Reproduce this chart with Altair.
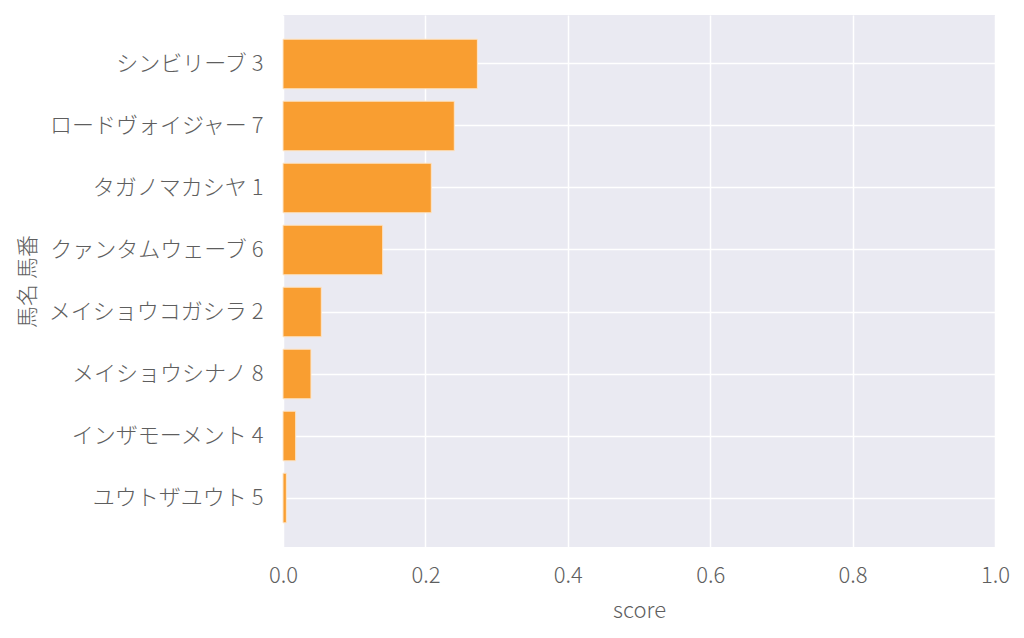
import altair as alt
import pandas as pd

names = ["シンビリーブ 3", "ロードヴォイジャー 7", "タガノマカシヤ 1", "クァンタムウェーブ 6",
         "メイショウコガシラ 2", "メイショウシナノ 8", "インザモーメント 4", "ユウトザユウト 5"]
scores = [0.273, 0.2406, 0.2083, 0.140, 0.0538, 0.0393, 0.0178, 0.0047]

df = pd.DataFrame({"name": names, "score": scores})

FONT = "Noto Sans CJK JP Light, Noto Sans CJK JP"

chart = alt.Chart(df).mark_bar(
    color="#F99E31", stroke="#FDE5C8", strokeWidth=1
).encode(
    x=alt.X("score:Q", title="score",
            scale=alt.Scale(domain=[0, 1], nice=False, zero=True),
            axis=alt.Axis(values=[0, 0.2, 0.4, 0.6, 0.8, 1.0], format=".1f",
                          tickSize=0, labelPadding=18, titlePadding=14, labelFlush=False,
                          domain=False, gridColor="white", gridWidth=1.5,
                          labelFontSize=22, titleFontSize=22)),
    y=alt.Y("name:N", title="馬名 馬番", sort=names,
            scale=alt.Scale(paddingInner=0.2, paddingOuter=0.39),
            axis=alt.Axis(tickSize=0, labelPadding=20,
                          titleX=-256, titleY=266, titleAngle=270,
                          titleAlign="center", titleBaseline="middle",
                          domain=False, gridColor="white", gridWidth=1.5, grid=True,
                          labelFontSize=22, titleFontSize=22, labelLimit=400)),
).properties(
    width=712, height=532,
    autosize=alt.AutoSizeParams(type="none"),
    padding={"left": 275, "top": 7, "right": 20, "bottom": 80},
).configure_view(
    fill="#EAEAF2", stroke=None
).configure_axis(
    labelFont=FONT, titleFont=FONT, labelColor="#5e5e5e", titleColor="#5e5e5e",
    labelFontWeight=300, titleFontWeight=300
)

chart.save("out.html", embed_options={"renderer": "svg", "actions": False})
